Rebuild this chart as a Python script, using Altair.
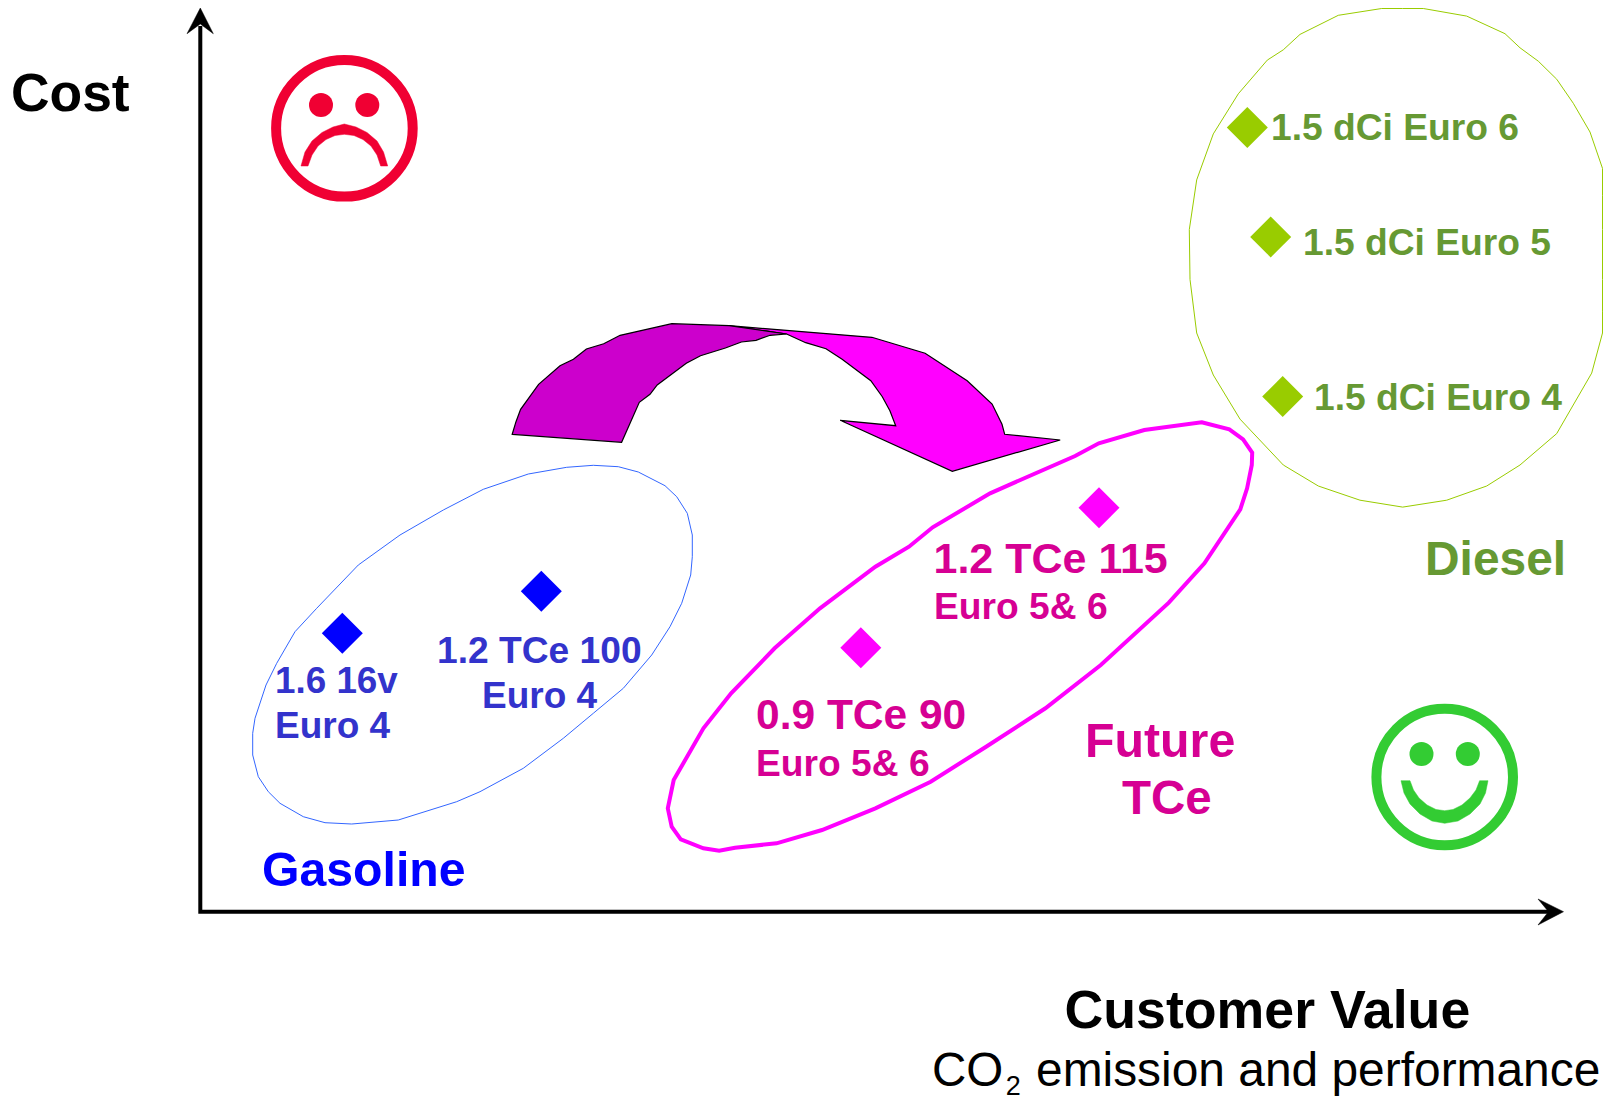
import altair as alt
import pandas as pd

# Outlines (pixel-like picture units)
gas_x = [593.3,618.3,638.3,665,676.7,687.3,692.3,692.3,690.7,681.7,670,651.7,623.3,593.3,563.3,523.3,480,456.7,398.3,351.7,325,303.3,280,268.3,258.3,252.7,252.7,255,266,276.7,295,316.7,358.3,400,443.3,483.3,528.3,566.7]
gas_y = [465.3,466.7,472,485.7,496.7,513.3,535,556.7,575,603.3,626.7,655,688.3,713.3,738.3,768.3,791.7,801.7,820,824,822.7,816.7,803.3,791.7,776.7,755,733.3,718.3,685,663.3,631.7,608.3,565,535,510,489.3,474,467.3]
tce_x = [1201.6,1229.3,1243.1,1252.2,1251.8,1247.1,1240.3,1204.4,1168.8,1100.8,1045.4,986.1,930.7,875.4,822,776.5,735,719.2,703.4,680.8,671.7,667.8,673.7,703.4,731.1,774.6,820,875.4,909,932.7,990.1,1075.1,1098.8,1144.3]
tce_y = [422.3,429.3,439.3,452.7,465,488.3,509.3,563.3,602.7,665,708.3,746.7,781.7,808.3,830,843.3,847.7,850.7,848.3,839.3,826.7,808.3,780,728.3,693.3,648.3,608.3,566.7,546.7,527.3,493.3,456,443.3,430]
die_x = [1402.7,1423.3,1466.7,1505,1520,1538.3,1556.7,1573.3,1590,1602.5,1602.5,1602.5,1602.5,1602.5,1602.5,1591.7,1556.7,1520,1486.7,1446.7,1402.7,1360,1318.3,1283.3,1240,1213.3,1196.7,1190,1189.3,1196.7,1213.3,1238.3,1267.3,1283.3,1300,1338.3,1381.7]
die_y = [8.5,8.5,16.1,33.7,47.8,61.2,79.2,103.3,132,168.4,195.2,229.6,279.4,311.9,333,373.1,433.6,465,486,500.2,507.1,500.2,486,465,419.1,375,333,279.4,229.6,179.9,133.9,93.8,60.1,49.8,34.4,15.3,8.5]
arrow_left_x = [512.2,621.6,639.3,650,657.2,686.3,700.5,725.4,741.4,756,770.1,786.6,729.2,671.8,620.1,603.7,586.4,573.4,560,538.6,520.6,516]
arrow_left_y = [434.3,442.3,402.3,394.3,385,363.3,355.7,348,342,340.3,335.3,334,325.7,323.7,335.3,343.7,349,359.3,365.7,384.3,409.3,421.7]
arrow_right_x = [786.6,805.7,826,842.1,870.8,882.3,889.9,895.7,840.2,952.3,1060.2,1004.7,1002,992.1,967.2,925.1,871.9,729.2]
arrow_right_y = [334,342.7,348.7,359.3,380.7,396.7,410.7,425.7,420.3,471.3,440,434.3,424.3,404,380.7,353.3,337.3,325.7]
frown_x = [301,305,312,322,333,344.3,356,367,377,383.5,387.7,380.7,377,371,363,354,344.3,335,326,318,312,308]
frown_y = [166,152,141,132.5,127,124,127,132.5,141,152,166,166,155,146,139.5,135.5,134.3,135.5,139.5,146,155,166]
smile_x = [1401,1404,1410,1420,1432,1444.7,1458,1470,1480,1485.5,1488,1479.6,1476,1470,1462,1453,1444.7,1436,1427,1419,1413.5,1410]
smile_y = [780.7,793,804,814,821,823.3,821,814,804,793,780.7,780.7,790,798,805,809.5,810.7,809.5,805,798,790,780.7]
head_up_x = [200.3,213.3,200.3,187]
head_up_y = [8,33.7,24,33.7]
head_right_x = [1563.5,1538,1548.5,1538]
head_right_y = [911.7,899,911.7,925]
axis_x = [200.3,200.3,1550]
axis_y = [26,911.7,911.7]

# Diamonds
blue_x = [342.3,541.3]
blue_y = [633.3,591.3]
pink_x = [1099,860.8]
pink_y = [507.7,647.7]
green_x = [1247.3,1270.7,1282.7]
green_y = [127.4,236.9,396.5]

# Faces
face_x = [344.4,1444.7]
face_y = [128.3,777]
sad_eye_x = [321,367.3]
sad_eye_y = [105,105]
happy_eye_x = [1421.5,1467.8]
happy_eye_y = [754,754]

# Labels: text, left x, baseline y, size, colour, weight
BLUE, PURP, MAG, OLIVE = "#0000FF", "#3333CC", "#D60093", "#669933"
labels = [
    ("Cost", 11, 110.5, 53.4, "#000000", "bold"),
    ("Customer Value", 1064.5, 1027.5, 53.7, "#000000", "bold"),
    ("CO", 932, 1086, 47.5, "#000000", "normal"),
    ("2", 1005.7, 1095, 27, "#000000", "normal"),
    ("emission and performance", 1036, 1086, 47.9, "#000000", "normal"),
    ("Gasoline", 262, 885.5, 48.2, BLUE, "bold"),
    ("1.6 16v", 275, 692.5, 36.8, PURP, "bold"),
    ("Euro 4", 275, 737.5, 37, PURP, "bold"),
    ("1.2 TCe 100", 437, 663, 37.2, PURP, "bold"),
    ("Euro 4", 482, 707.5, 37, PURP, "bold"),
    ("1.2 TCe 115", 933.5, 573, 43, MAG, "bold"),
    ("Euro 5& 6", 934, 618.5, 37.2, MAG, "bold"),
    ("0.9 TCe 90", 756, 729, 42.5, MAG, "bold"),
    ("Euro 5& 6", 756, 775.5, 37.2, MAG, "bold"),
    ("Future", 1085, 756.5, 48.3, MAG, "bold"),
    ("TCe", 1122, 813.5, 47.5, MAG, "bold"),
    ("1.5 dCi Euro 6", 1271, 140, 37.2, OLIVE, "bold"),
    ("1.5 dCi Euro 5", 1303, 255, 37.2, OLIVE, "bold"),
    ("1.5 dCi Euro 4", 1314, 410, 37.2, OLIVE, "bold"),
    ("Diesel", 1425, 575, 47.9, OLIVE, "bold"),
]

X = alt.X("x:Q", axis=None, scale=alt.Scale(domain=[8, 1603], nice=False, zero=False))
Y = alt.Y("y:Q", axis=None, scale=alt.Scale(domain=[1101, 8], nice=False, zero=False))


def polygon(xs, ys, stroke, width, fill=None, closed=True):
    df = pd.DataFrame({"x": xs, "y": ys, "i": range(len(xs))})
    kw = {"stroke": stroke, "strokeWidth": width, "strokeJoin": "miter"}
    if fill:
        kw["fill"] = fill
    if closed:
        kw["interpolate"] = "linear-closed"
    return alt.Chart(df).mark_line(**kw).encode(x=X, y=Y, order="i:Q")


def dots(xs, ys, color, size, shape="circle"):
    df = pd.DataFrame({"x": xs, "y": ys})
    return alt.Chart(df).mark_point(shape=shape, filled=True, color=color, opacity=1, size=size).encode(x=X, y=Y)


def ring(xs, ys, color, size, width):
    df = pd.DataFrame({"x": xs, "y": ys})
    return alt.Chart(df).mark_point(shape="circle", filled=False, stroke=color, strokeWidth=width, opacity=1, size=size).encode(x=X, y=Y)


layers = [
    polygon(gas_x, gas_y, "#3366FF", 1),
    polygon(tce_x, tce_y, "#FF00FF", 4),
    polygon(die_x, die_y, "#99CC00", 1),
    polygon(arrow_right_x, arrow_right_y, "#000000", 1.2, fill="#FF00FF"),
    polygon(arrow_left_x, arrow_left_y, "#000000", 1.2, fill="#CC00CC"),
    polygon(axis_x, axis_y, "#000000", 4, closed=False),
    polygon(head_up_x, head_up_y, "#000000", 0.5, fill="#000000"),
    polygon(head_right_x, head_right_y, "#000000", 0.5, fill="#000000"),
    dots(blue_x, blue_y, "#0000FF", 1681, "diamond"),
    dots(pink_x, pink_y, "#FF00FF", 1681, "diamond"),
    dots(green_x, green_y, "#99CC00", 1681, "diamond"),
    ring(face_x[:1], face_y[:1], "#F00033", 18660, 10),
    ring(face_x[1:], face_y[1:], "#33CC33", 18660, 10),
    dots(sad_eye_x, sad_eye_y, "#F00033", 576),
    dots(happy_eye_x, happy_eye_y, "#33CC33", 576),
    polygon(frown_x, frown_y, "#F00033", 0.5, fill="#F00033"),
    polygon(smile_x, smile_y, "#33CC33", 0.5, fill="#33CC33"),
]
for text, x, y, size, color, weight in labels:
    df = pd.DataFrame({"x": [x], "y": [y], "t": [text]})
    layers.append(
        alt.Chart(df)
        .mark_text(align="left", baseline="alphabetic", font="Liberation Sans",
                   fontSize=size, fontWeight=weight, color=color)
        .encode(x=X, y=Y, text="t:N")
    )

chart = (
    alt.layer(*layers)
    .properties(width=1595, height=1093, padding=0, background="white",
                autosize=alt.AutoSizeParams(type="none"))
    .configure_view(stroke=None)
)
chart.save("out.html", embed_options={"renderer": "svg", "actions": False})
